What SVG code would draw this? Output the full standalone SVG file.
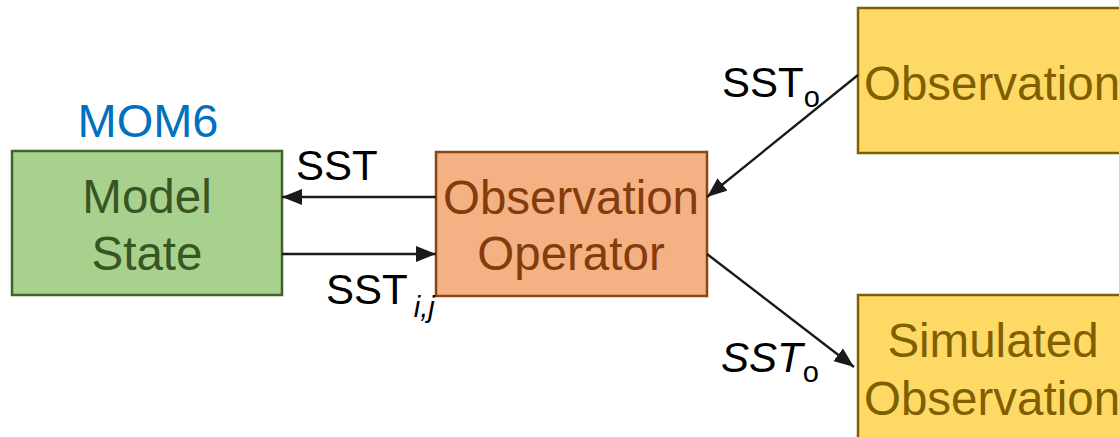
<svg xmlns="http://www.w3.org/2000/svg" width="1119" height="437" viewBox="0 0 1119 437">
<defs>
<style>
text{font-family:"Liberation Sans",Arial,sans-serif}
.node{font-size:47.5px;text-anchor:middle}
.lbl{font-size:42px;fill:#000}
.sub{font-size:29px}
.conn{stroke:#1a1a1a;stroke-width:2.4;fill:none;marker-end:url(#ahx)}
</style>
<marker id="ahx" viewBox="0 0 20 16" refX="20" refY="8" markerWidth="20" markerHeight="16" markerUnits="userSpaceOnUse" orient="auto">
<path d="M0,0 L20,8 L0,16 z" fill="#1a1a1a"/>
</marker>
</defs>
<rect width="1119" height="437" fill="#ffffff"/>
<g id="model-state">
<rect x="12" y="151" width="270" height="144" fill="#a9d18e" stroke="#41622b" stroke-width="2.5"/>
<text class="node" x="147" y="213" fill="#375623">Model</text>
<text class="node" x="147" y="270" fill="#375623">State</text>
<text x="148" y="137" font-size="47" text-anchor="middle" fill="#0070c0">MOM6</text>
</g>
<g id="observation-operator">
<rect x="436" y="152" width="271" height="144" fill="#f4b183" stroke="#8b4513" stroke-width="2.5"/>
<text class="node" x="571" y="214" fill="#843c0c">Observation</text>
<text class="node" x="571" y="270" fill="#843c0c">Operator</text>
</g>
<g id="observation">
<rect x="858" y="8" width="280" height="145" fill="#ffd966" stroke="#7f6000" stroke-width="2.5"/>
<text x="864" y="100" font-size="47.5" fill="#7f6000">Observation</text>
</g>
<g id="simulated-observation">
<rect x="858" y="295" width="280" height="160" fill="#ffd966" stroke="#7f6000" stroke-width="2.5"/>
<text class="node" x="993" y="357" fill="#7f6000">Simulated</text>
<text x="864" y="415" font-size="47.5" fill="#7f6000">Observation</text>
</g>
<g id="connectors">
<line class="conn" x1="436" y1="197" x2="282" y2="197"/>
<line class="conn" x1="282" y1="254" x2="436" y2="254"/>
<line class="conn" x1="858" y1="75" x2="707" y2="197"/>
<line class="conn" x1="707" y1="254" x2="854" y2="367"/>
<text class="lbl" x="296" y="180">SST</text>
<text class="lbl" x="326" y="304">SST<tspan class="sub" font-style="italic" dx="6" dy="13">i,j</tspan></text>
<text class="lbl" x="722" y="97">SST<tspan class="sub" dy="10">o</tspan></text>
<text class="lbl" x="721" y="372"><tspan font-style="italic">SST</tspan><tspan class="sub" dy="10">o</tspan></text>
</g>
</svg>
